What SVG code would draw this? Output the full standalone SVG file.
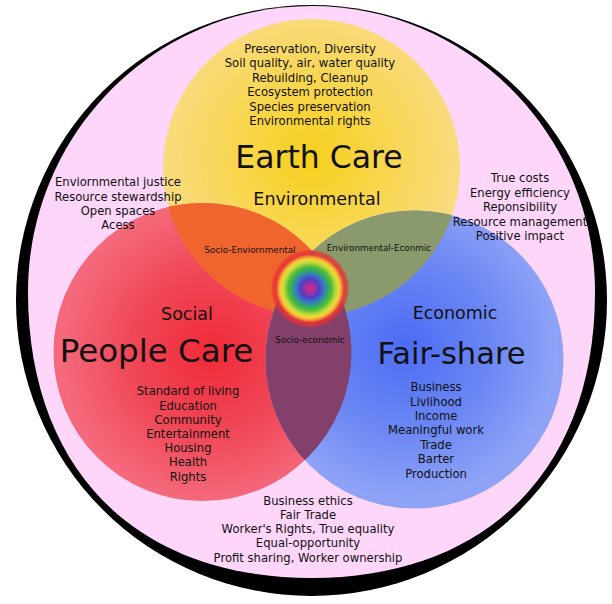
<svg xmlns="http://www.w3.org/2000/svg" width="612" height="604" viewBox="0 0 612 604">
<defs>
<radialGradient id="gY" cx="311" cy="158" r="150" gradientUnits="userSpaceOnUse">
<stop offset="0" stop-color="#f6d01c"/><stop offset="0.5" stop-color="#f8d64e"/><stop offset="1" stop-color="#f9db80"/>
</radialGradient>
<radialGradient id="gR" cx="212" cy="352" r="152" gradientUnits="userSpaceOnUse">
<stop offset="0" stop-color="#f02a38"/><stop offset="0.55" stop-color="#f04858"/><stop offset="1" stop-color="#f46a7c"/>
</radialGradient>
<radialGradient id="gB" cx="405" cy="345" r="152" gradientUnits="userSpaceOnUse">
<stop offset="0" stop-color="#4c6cf4"/><stop offset="0.55" stop-color="#6a86f4"/><stop offset="1" stop-color="#8ea2f6"/>
</radialGradient>
<radialGradient id="gRain" cx="310" cy="288.5" r="39" gradientUnits="userSpaceOnUse">
<stop offset="0" stop-color="#d8288a"/>
<stop offset="0.12" stop-color="#a830a0"/>
<stop offset="0.24" stop-color="#4e3ec4"/>
<stop offset="0.36" stop-color="#3a78c8"/>
<stop offset="0.46" stop-color="#2ea868"/>
<stop offset="0.56" stop-color="#52bc3a"/>
<stop offset="0.66" stop-color="#b8d83a"/>
<stop offset="0.74" stop-color="#f0d838"/>
<stop offset="0.81" stop-color="#f49a34"/>
<stop offset="0.87" stop-color="#e83838" stop-opacity="0.9"/>
<stop offset="0.95" stop-color="#e83030" stop-opacity="0.7"/>
<stop offset="1" stop-color="#e83030" stop-opacity="0.2"/>
</radialGradient>
<clipPath id="cY"><circle cx="311.5" cy="167.5" r="148.5"/></clipPath>
<clipPath id="cR"><circle cx="202.5" cy="352" r="149"/></clipPath>
<style>
text{font-family:"DejaVu Sans","Open Sans",sans-serif;fill:#111;text-anchor:middle}
.l{font-size:11.6px}
.s{font-size:8.8px}
.m{font-size:17.5px}
.b{font-size:31.5px}
</style>
</defs>
<g id="frame">
<circle cx="311.5" cy="300.5" r="295.5" fill="#000"/>
<path d="M311.5 6 C468 6 595 134 595 292 C595 469.3 487.3 578 311.5 578 C135.7 578 28 469.3 28 292 C28 134 155 6 311.5 6 Z" fill="#fdd6fa"/>
</g>
<g id="earth-care">
<circle cx="311.5" cy="167.5" r="148.5" fill="url(#gY)"/>
</g>
<g id="people-care">
<circle cx="202.5" cy="352" r="149" fill="url(#gR)"/>
</g>
<g id="fair-share">
<circle cx="414.5" cy="359.5" r="149" fill="url(#gB)"/>
</g>
<g id="overlaps">
<circle cx="202.5" cy="352" r="149" fill="#f0652e" clip-path="url(#cY)"/>
<circle cx="414.5" cy="359.5" r="149" fill="#8a9a6c" clip-path="url(#cY)"/>
<circle cx="414.5" cy="359.5" r="149" fill="#83406a" clip-path="url(#cR)"/>
</g>
<g id="center">
<circle cx="310" cy="288.5" r="39" fill="url(#gRain)"/>
</g>
<g id="connectors"/>
<g id="labels-earth">
<text class="l" x="310" y="52.5">Preservation, Diversity</text>
<text class="l" x="310" y="67">Soil quality, air, water quality</text>
<text class="l" x="310" y="81.5">Rebuilding, Cleanup</text>
<text class="l" x="310" y="96">Ecosystem protection</text>
<text class="l" x="310" y="110.5">Species preservation</text>
<text class="l" x="310" y="124.5">Environmental rights</text>
<text class="b" x="319" y="167.5">Earth Care</text>
<text class="m" x="317" y="205">Environmental</text>
</g>
<g id="labels-left">
<text class="l" x="118" y="186">Enviornmental justice</text>
<text class="l" x="118" y="200.5">Resource stewardship</text>
<text class="l" x="118" y="215">Open spaces</text>
<text class="l" x="118" y="229">Acess</text>
</g>
<g id="labels-right">
<text class="l" x="520" y="182">True costs</text>
<text class="l" x="520" y="196.5">Energy efficiency</text>
<text class="l" x="520" y="211">Reponsibility</text>
<text class="l" x="520" y="225.5">Resource management</text>
<text class="l" x="520" y="239.5">Positive impact</text>
</g>
<g id="labels-overlap">
<text class="s" x="250" y="252.5">Socio-Enviornmental</text>
<text class="s" x="379" y="250.5">Environmental-Econmic</text>
<text class="s" x="310" y="342.5">Socio-economic</text>
</g>
<g id="labels-people">
<text class="m" x="187" y="319.5">Social</text>
<text class="b" x="156.5" y="362" style="font-size:32.5px">People Care</text>
<text class="l" x="188" y="395">Standard of living</text>
<text class="l" x="188" y="409.5">Education</text>
<text class="l" x="188" y="423.7">Community</text>
<text class="l" x="188" y="438">Entertainment</text>
<text class="l" x="188" y="452">Housing</text>
<text class="l" x="188" y="466.3">Health</text>
<text class="l" x="188" y="480.7">Rights</text>
</g>
<g id="labels-fair">
<text class="m" x="455" y="318.5">Economic</text>
<text class="b" x="451.5" y="364" style="font-size:30.5px">Fair-share</text>
<text class="l" x="436" y="391">Business</text>
<text class="l" x="436" y="405.7">Livlihood</text>
<text class="l" x="436" y="420">Income</text>
<text class="l" x="436" y="434.4">Meaningful work</text>
<text class="l" x="436" y="448.6">Trade</text>
<text class="l" x="436" y="462.8">Barter</text>
<text class="l" x="436" y="477.5">Production</text>
</g>
<g id="labels-bottom">
<text class="l" x="308" y="504.5">Business ethics</text>
<text class="l" x="308" y="518.5">Fair Trade</text>
<text class="l" x="308" y="533">Worker's Rights, True equality</text>
<text class="l" x="308" y="547">Equal-opportunity</text>
<text class="l" x="308" y="561.5">Profit sharing, Worker ownership</text>
</g>
</svg>
